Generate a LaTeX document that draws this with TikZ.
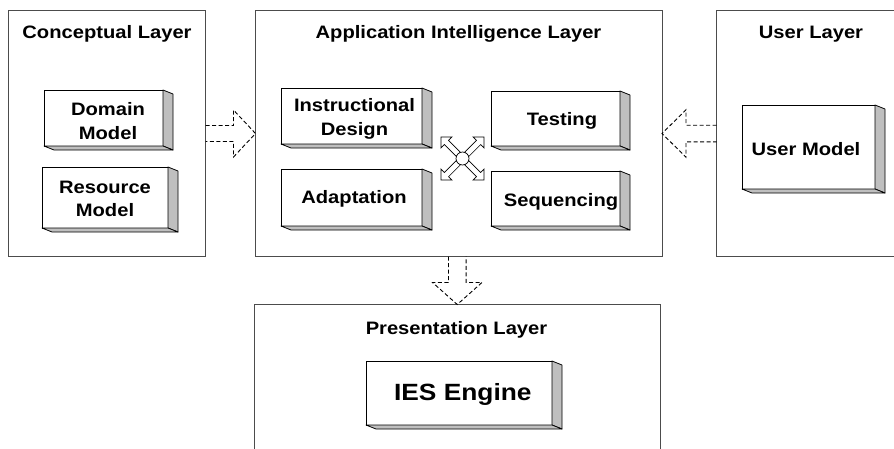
\documentclass[tikz,border=0pt]{standalone}
\usepackage{fontspec}
\setmainfont{Liberation Sans}[FakeStretch=1.12]
\usetikzlibrary{calc}
\tikzset{
  layer/.style={draw=black!70, line width=0.9pt, fill=none, inner sep=0pt, outer sep=0pt, anchor=north west},
  front/.style={draw=black, fill=white, line width=1pt, inner sep=0pt, outer sep=0pt, anchor=north west},
  sideface/.style={draw=black, fill=gray!50, line width=0.8pt, line join=round},
  lbl/.style={font=\bfseries\fontsize{18}{23.3}\selectfont, align=center, inner sep=0pt},
  ttl/.style={font=\bfseries\fontsize{18}{22}\selectfont, anchor=base, inner sep=0pt},
  dasharrow/.style={draw=black, line width=0.9pt, dash pattern=on 4pt off 2.5pt, line join=miter},
  hubarrow/.style={draw=black, fill=white, line width=0.7pt, line join=miter}
}
\newcommand\mkdepth[1]{%
  \filldraw[sideface] (#1.north east) -- ++(10,4) -- ($(#1.south east)+(10,4)$) -- (#1.south east) -- cycle;
  \filldraw[sideface] (#1.south west) -- ++(10,4) -- ($(#1.south east)+(10,4)$) -- (#1.south east) -- cycle;
}
\begin{document}
\begin{tikzpicture}[x=1pt,y=-1pt]
\useasboundingbox (0,0) rectangle (894,448);
\clip (0,0) rectangle (894,448);
\fill[white] (0,0) rectangle (894,448);

% layers
\node[layer, minimum width=197, minimum height=246] (concept) at (8.5,10.5) {};
\node[layer, minimum width=406.5, minimum height=246] (app) at (255.5,10.5) {};
\node[layer, minimum width=190, minimum height=246] (user) at (716.5,10.5) {};
\node[layer, minimum width=406.5, minimum height=160] (pres) at (254,304.5) {};

\node[ttl] (concept-t) at (107,38.3) {Conceptual Layer};
\node[ttl] (app-t) at (458.5,38.3) {Application Intelligence Layer};
\node[ttl] (user-t) at (811,38.3) {User Layer};
\node[ttl] (pres-t) at (456.5,334.3) {Presentation Layer};

% 3D boxes
\node[front, minimum width=119, minimum height=56] (dm) at (44,90) {};
\mkdepth{dm}
\node[lbl] (dm-t) at (108,121) {Domain\\Model};

\node[front, minimum width=126, minimum height=61] (rm) at (42,167) {};
\mkdepth{rm}
\node[lbl] (rm-t) at (105,199) {Resource\\Model};

\node[front, minimum width=141, minimum height=56] (id) at (281,88) {};
\mkdepth{id}
\node[lbl] (id-t) at (354.5,119) {Instructional\\Design};

\node[front, minimum width=141, minimum height=57] (ad) at (281,169) {};
\mkdepth{ad}
\node[lbl] (ad-t) at (354,198.5) {Adaptation};

\node[front, minimum width=129, minimum height=55] (te) at (491,91) {};
\mkdepth{te}
\node[lbl] (te-t) at (562,121) {Testing};

\node[front, minimum width=129, minimum height=55] (se) at (491,171) {};
\mkdepth{se}
\node[lbl] (se-t) at (561,201.5) {Sequencing};

\node[front, minimum width=133, minimum height=84] (um) at (742,105) {};
\mkdepth{um}
\node[lbl] (um-t) at (806,149) {User Model};

\node[front, minimum width=186, minimum height=64] (ies) at (366,361) {};
\mkdepth{ies}
\node[lbl, font=\bfseries\fontsize{23.5}{28}\selectfont] (ies-t) at (462.8,394.5) {IES Engine};

% hub icon
\coordinate (hub) at (462.5,158.5);
\foreach \a in {45,135,225,315}{
  \filldraw[hubarrow, shift={(hub)}, rotate=\a]
    (5.77,3) -- (22.7,3) -- (22.7,7.8) -- (30.5,0) -- (22.7,-7.8) -- (22.7,-3) -- (5.77,-3) -- cycle;
}
\filldraw[hubarrow] (hub) circle[radius=6.5pt];

% dashed block arrows
\draw[dasharrow] ($(concept.east)+(0,-8)$) -- ($(app.west)+(-22,-8)$) -- ($(app.west)+(-22,-23.5)$) -- (app.west)
  -- ($(app.west)+(-22,23.5)$) -- ($(app.west)+(-22,8)$) -- ($(concept.east)+(0,8)$);
\draw[dasharrow] ($(user.west)+(0,-8.3)$) -- ($(app.east)+(24,-8.3)$) -- ($(app.east)+(24,-23.7)$) -- (app.east)
  -- ($(app.east)+(24,23.7)$) -- ($(app.east)+(24,8.3)$) -- ($(user.west)+(0,8.3)$);
\coordinate (pb) at (pres.north |- app.south);
\draw[dasharrow] ($(pb)+(-8.8,0)$) -- ($(pres.north)+(-8.8,-22)$) -- ($(pres.north)+(-24.7,-22)$) -- (pres.north)
  -- ($(pres.north)+(24.7,-22)$) -- ($(pres.north)+(8.8,-22)$) -- ($(pb)+(8.8,0)$);
\end{tikzpicture}
\end{document}
